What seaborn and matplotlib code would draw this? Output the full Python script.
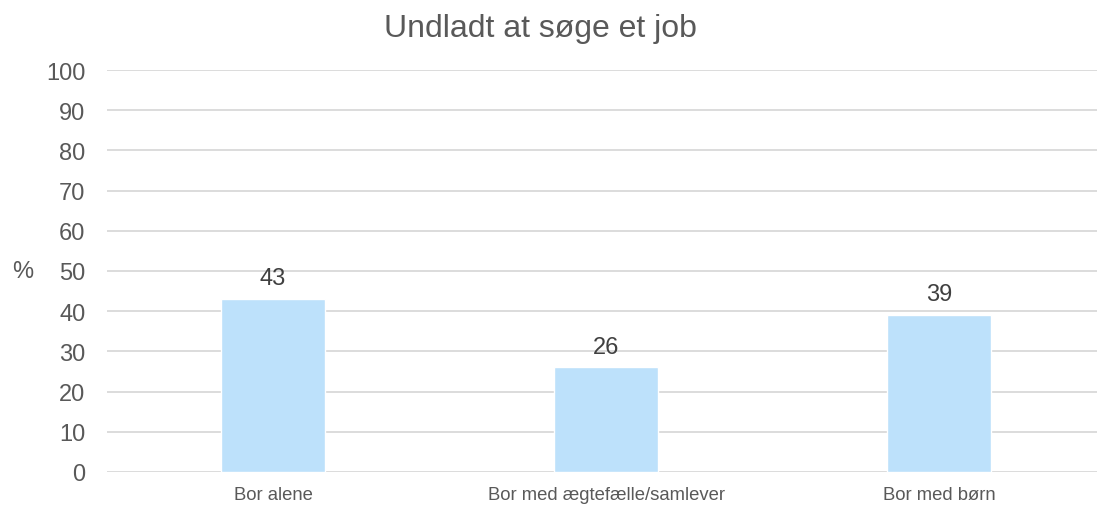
import matplotlib
matplotlib.use("Agg")
import matplotlib.pyplot as plt
import seaborn as sns
import pandas as pd

categories = ["Bor alene", "Bor med ægtefælle/samlever", "Bor med børn"]
values = [43, 26, 39]
yticks = [0, 10, 20, 30, 40, 50, 60, 70, 80, 90, 100]

sns.set_theme(style="white")
plt.rcParams["font.family"] = ["Liberation Sans", "DejaVu Sans"]

df = pd.DataFrame({"kategori": categories, "procent": values})

fig = plt.figure(figsize=(10.97, 5.06), dpi=100)
ax = fig.add_axes([107 / 1097, 33 / 506, 990 / 1097, 402 / 506])

sns.barplot(data=df, x="kategori", y="procent", color="#BDE1FB",
            saturation=1, width=0.312, ax=ax)

ax.set_ylim(0, 100)
ax.set_xlim(-0.4985, 2.474)
ax.set_yticks(yticks)
ax.set_yticklabels([str(t) for t in yticks], fontsize=17, color="#595959")
ax.tick_params(axis="y", length=0, pad=15.5)
ax.tick_params(axis="x", length=0, pad=10, labelsize=13.3, labelcolor="#595959")
ax.yaxis.grid(True, color="#D9D9D9", linewidth=1.3)
ax.set_axisbelow(True)
for s in ax.spines.values():
    s.set_visible(False)

ax.set_xlabel("")
ax.set_ylabel("%", rotation=0, fontsize=17, color="#595959", va="center", ha="center")
ax.yaxis.set_label_coords(-0.085, 0.5)

for bar, v in zip(ax.patches, values):
    ax.annotate(f"{v:.0f}", (bar.get_x() + bar.get_width() / 2, v),
                xytext=(0, 7), textcoords="offset points",
                ha="center", va="bottom", fontsize=17, color="#404040")

fig.text(540 / 1097, 1 - 29 / 506, "Undladt at søge et job", ha="center",
         va="center", fontsize=23, color="#595959")

fig.savefig("out.png", dpi=100)
